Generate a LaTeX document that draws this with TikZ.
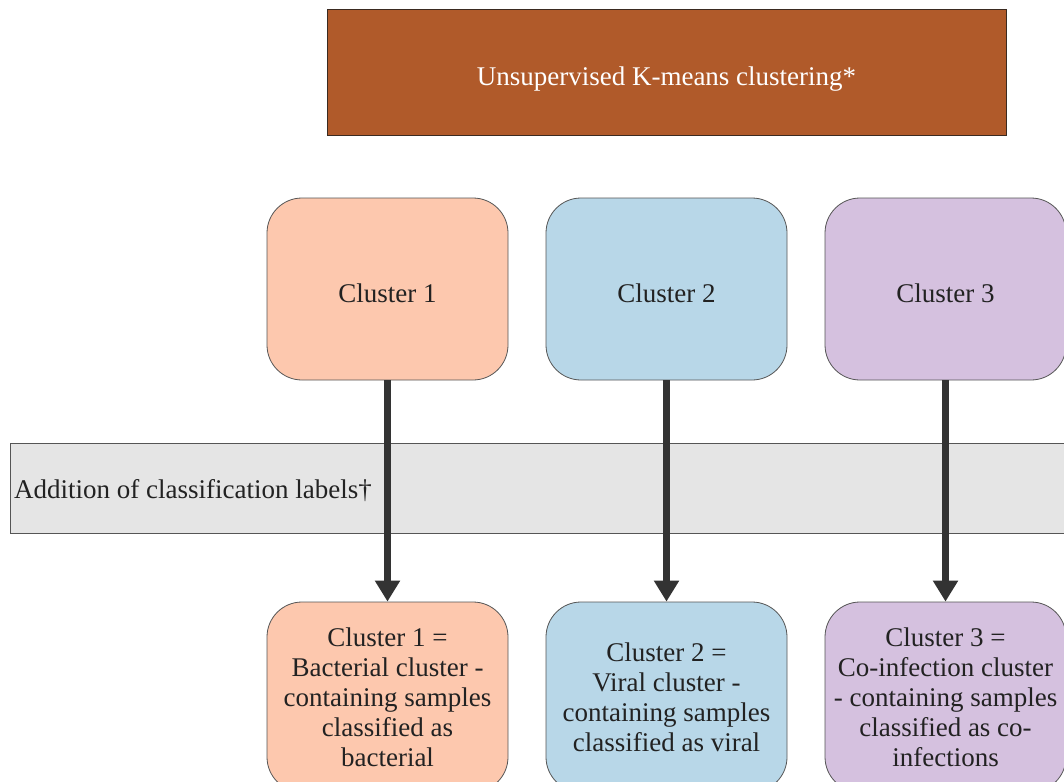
\documentclass[tikz,border=0pt]{standalone}
\usepackage{fontspec}
\setmainfont{Liberation Serif}
\usetikzlibrary{arrows.meta}
\definecolor{topfill}{HTML}{B05A2A}
\definecolor{topline}{HTML}{3A2A20}
\definecolor{bactfill}{HTML}{FDC8AE}
\definecolor{virfill}{HTML}{B8D7E8}
\definecolor{cofill}{HTML}{D5C1DF}
\definecolor{bandfill}{HTML}{E5E5E5}
\definecolor{boxline}{HTML}{555555}
\definecolor{arrowcol}{HTML}{333333}
\definecolor{txt}{HTML}{222222}
\tikzset{
  lbl/.style={font=\fontsize{27}{30}\selectfont, text=txt},
  clusterbox/.style={lbl, draw=boxline, line width=0.8pt, rounded corners=35pt,
    minimum width=241pt, inner sep=0pt, align=center},
  flow/.style={draw=arrowcol, line width=7pt,
    -{Triangle[width=24pt,length=21pt]}}
}
\begin{document}
\begin{tikzpicture}[x=1pt,y=-1pt]
\useasboundingbox (0,0) rectangle (1064,781);
\clip (0,0) rectangle (1064,781);
% header step
\node[draw=topline, line width=1pt, fill=topfill, minimum width=679pt, minimum height=125pt,
      inner sep=0pt, text height=31pt, font=\fontsize{27}{30}\selectfont, text=white]
  (kmeans) at (666.5,72.5) {Unsupervised K-means clustering*};
% band across the flow
\node[draw=boxline, line width=1pt, fill=bandfill, minimum width=1080pt, minimum height=90pt,
      inner sep=0pt, anchor=west] (band) at (10,488) {};
\node[lbl, anchor=west, inner sep=0pt] (bandtext) at (14,491) {Addition of classification labels†};
% clusters from K-means
\node[clusterbox, fill=bactfill, minimum height=182pt, text height=27pt] (c1) at (387.5,289) {Cluster 1};
\node[clusterbox, fill=virfill,  minimum height=182pt, text height=27pt] (c2) at (666.5,289) {Cluster 2};
\node[clusterbox, fill=cofill,   minimum height=182pt, text height=27pt] (c3) at (945.5,289) {Cluster 3};
% labelled clusters
\node[clusterbox, fill=bactfill, minimum height=190pt] (l1) at (387.5,697)
  {Cluster 1 =\\Bacterial cluster -\\containing samples\\classified as\\bacterial};
\node[clusterbox, fill=virfill,  minimum height=190pt] (l2) at (666.5,697)
  {Cluster 2 =\\Viral cluster -\\containing samples\\classified as viral};
\node[clusterbox, fill=cofill,   minimum height=190pt] (l3) at (945.5,697)
  {Cluster 3 =\\Co-infection cluster\\- containing samples\\classified as co-\\infections};
% arrows
\draw[flow] (c1.south) -- (l1.north);
\draw[flow] (c2.south) -- (l2.north);
\draw[flow] (c3.south) -- (l3.north);
\end{tikzpicture}
\end{document}
